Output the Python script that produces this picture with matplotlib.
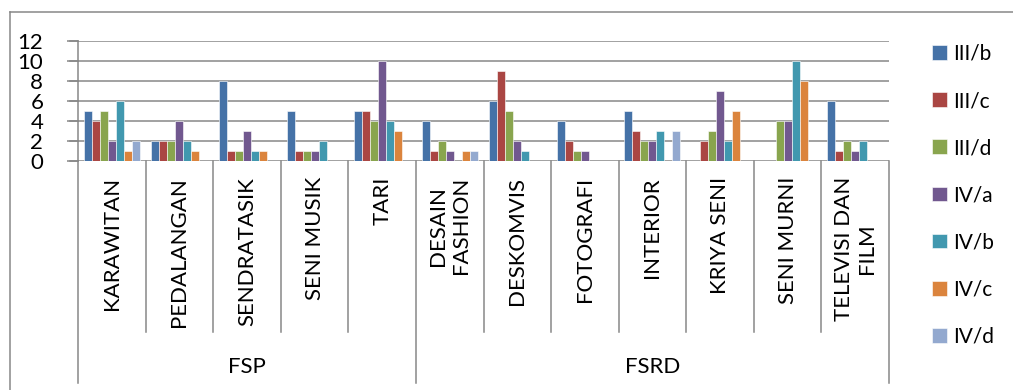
import numpy as np
import matplotlib
matplotlib.use("Agg")
import matplotlib.pyplot as plt
from matplotlib.lines import Line2D

plt.rcParams['font.family'] = ['Lato', 'DejaVu Sans']

# program studi per fakultas
categories = ['KARAWITAN', 'PEDALANGAN', 'SENDRATASIK', 'SENI MUSIK', 'TARI',
              'DESAIN\nFASHION', 'DESKOMVIS', 'FOTOGRAFI', 'INTERIOR',
              'KRIYA SENI', 'SENI MURNI', 'TELEVISI DAN\nFILM']
groups = ['FSP', 'FSRD']
group_sizes = [5, 7]

series = ['III/b', 'III/c', 'III/d', 'IV/a', 'IV/b', 'IV/c', 'IV/d']
iii_b = [5, 2, 8, 5, 5, 4, 6, 4, 5, 0, 0, 6]
iii_c = [4, 2, 1, 1, 5, 1, 9, 2, 3, 2, 0, 1]
iii_d = [5, 2, 1, 1, 4, 2, 5, 1, 2, 3, 4, 2]
iv_a = [2, 4, 3, 1, 10, 1, 2, 1, 2, 7, 4, 1]
iv_b = [6, 2, 1, 2, 4, 0, 1, 0, 3, 2, 10, 2]
iv_c = [1, 1, 1, 0, 3, 1, 0, 0, 0, 5, 8, 0]
iv_d = [2, 0, 0, 0, 0, 1, 0, 0, 3, 0, 0, 0]
values = [iii_b, iii_c, iii_d, iv_a, iv_b, iv_c, iv_d]

colors = ['#4572A7', '#AA4643', '#89A54E', '#71588F', '#4198AF', '#DB843D', '#93A9CF']
grey = '#878787'

W, H = 1013, 390
fig = plt.figure(figsize=(W / 100, H / 100), dpi=100)
ax = fig.add_axes([78 / W, 1 - 160.7 / H, (889 - 78) / W, 120 / H])

x = np.arange(len(categories))
w = 8 / 67.58
for j, (name, vals) in enumerate(zip(series, values)):
    ax.bar(x + (j - 3) * w, vals, width=w, color=colors[j], edgecolor='white',
           linewidth=0.4, label=name, zorder=3)

ax.set_xlim(-0.5, len(categories) - 0.5)
ax.set_ylim(0, 12)
ax.set_yticks(range(0, 13, 2))
ax.yaxis.grid(True, color=grey, linewidth=1.1, zorder=0)
ax.tick_params(axis='y', length=8, width=1.1, color=grey, pad=17, labelsize=16)
ax.tick_params(axis='x', bottom=False, labelbottom=False)
for s in ['top', 'right', 'bottom']:
    ax.spines[s].set_visible(False)
ax.spines['left'].set_color(grey)
ax.spines['left'].set_linewidth(1.1)

# grid lines stick out left of the axis like ticks
for yv in range(0, 13, 2):
    ax.plot([-0.5 - 8 / 67.58, -0.5], [yv, yv], color=grey, lw=1.1, clip_on=False)

tr = ax.get_xaxis_transform()
# category and group separators below the axis
bounds = np.cumsum([0] + group_sizes) - 0.5
for b in np.arange(-0.5, len(categories)):
    bottom = -1.853 if np.any(np.isclose(bounds, b)) else -1.425
    ax.plot([b, b], [0, bottom], color=grey, lw=1.1, transform=tr, clip_on=False)

for i, lab in enumerate(categories):
    ax.text(i, -0.136, lab, rotation=90, ha='center', va='top', fontsize=16,
            multialignment='center', transform=tr)

start = 0
for g, n in zip(groups, group_sizes):
    ax.text(start + (n - 1) / 2, -1.72, g, ha='center', va='center', fontsize=16,
            transform=tr)
    start += n

# chart frame
fig.add_artist(Line2D([9.5 / W, 9.5 / W], [0, 1 - 12 / H], color=grey, lw=1.1))
fig.add_artist(Line2D([9.5 / W, 1], [1 - 12 / H, 1 - 12 / H], color=grey, lw=1.1))

fig.legend(loc='upper left', bbox_to_anchor=(932 / W, 1 - 44 / H), frameon=False,
           fontsize=15, handlelength=0.72, handleheight=0.72, handletextpad=0.3,
           labelspacing=1.3, borderpad=0, borderaxespad=0)

fig.savefig('out.png', dpi=100)
